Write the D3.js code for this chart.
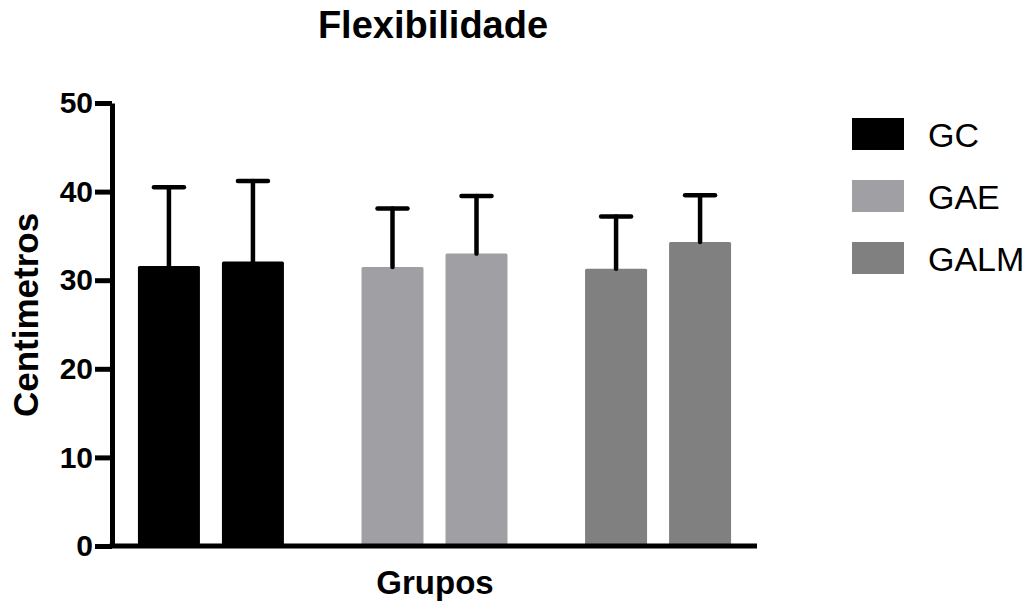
<!DOCTYPE html>
<html>
<head>
<meta charset="utf-8">
<script src="https://cdn.jsdelivr.net/npm/d3@7"></script>
<style>
  body { margin: 0; background: #fff; }
  text { font-family: "Liberation Sans", Arial, sans-serif; }
</style>
</head>
<body>
<svg id="chart" width="1030" height="615"></svg>
<script>
const groups = ["GC", "GAE", "GALM"];
const colors = ["#000000", "#a09fa4", "#808080"];
// two bars per group: mean and upper error value
const means = [[31.6, 32.1], [31.5, 33.0], [31.3, 34.3]];
const upper = [[40.5, 41.2], [38.1, 39.5], [37.2, 39.6]];
const yTicks = [0, 10, 20, 30, 40, 50];

var svg = d3.select("#chart");

var x = d3.scaleBand().domain(groups).range([112, 757]).paddingInner(0.347).paddingOuter(0.116);
var inner = d3.scaleBand().domain([0, 1]).range([0, x.bandwidth()]).paddingInner(0.262);
var y = d3.scaleLinear().domain([0, 50]).range([546, 103]);

var bars = [];
groups.forEach((grp, i) => {
  means[i].forEach((m, j) => {
    bars.push({ grp: grp, j: j, mean: m, up: upper[i][j], color: colors[i] });
  });
});

// bars
svg.selectAll(".bar")
  .data(bars)
  .enter().append("rect")
  .attr("class", "bar")
  .attr("x", d => x(d.grp) + inner(d.j))
  .attr("y", d => y(d.mean))
  .attr("width", inner.bandwidth())
  .attr("height", d => y(0) - y(d.mean))
  .attr("rx", 1.5)
  .attr("fill", d => d.color);

// error bars
var err = svg.selectAll(".err").data(bars).enter().append("g").attr("class", "err");
err.append("line")
  .attr("x1", d => x(d.grp) + inner(d.j) + inner.bandwidth() / 2)
  .attr("x2", d => x(d.grp) + inner(d.j) + inner.bandwidth() / 2)
  .attr("y1", d => y(d.mean))
  .attr("y2", d => y(d.up))
  .attr("stroke", "#000")
  .attr("stroke-width", 4.5)
  .attr("stroke-linecap", "round");
err.append("line")
  .attr("x1", d => x(d.grp) + inner(d.j) + inner.bandwidth() / 2 - 15)
  .attr("x2", d => x(d.grp) + inner(d.j) + inner.bandwidth() / 2 + 15)
  .attr("y1", d => y(d.up))
  .attr("y2", d => y(d.up))
  .attr("stroke", "#000")
  .attr("stroke-width", 4.5)
  .attr("stroke-linecap", "round");

// y axis
var yAxis = svg.append("g")
  .attr("transform", "translate(112,0)")
  .call(d3.axisLeft(y).tickValues(yTicks).tickSize(17).tickSizeOuter(0).tickPadding(2));
yAxis.select(".domain").attr("stroke-width", 5).attr("stroke", "#000");
yAxis.selectAll(".tick line").attr("stroke-width", 5).attr("stroke", "#000");
yAxis.selectAll(".tick text")
  .attr("fill", "#000")
  .style("font-size", "30px")
  .style("font-weight", "bold")
  .style("font-family", "'Liberation Sans', Arial, sans-serif");

// x axis line
svg.append("line")
  .attr("x1", x.range()[0] - 2.5)
  .attr("x2", x.range()[1])
  .attr("y1", y(0))
  .attr("y2", y(0))
  .attr("stroke", "#000")
  .attr("stroke-width", 5);

// title and axis labels
svg.append("text")
  .attr("x", 433)
  .attr("y", 38)
  .attr("text-anchor", "middle")
  .style("font-size", "38px")
  .style("font-weight", "bold")
  .text("Flexibilidade");

svg.append("text")
  .attr("x", 435)
  .attr("y", 594)
  .attr("text-anchor", "middle")
  .style("font-size", "33px")
  .style("font-weight", "bold")
  .text("Grupos");

svg.append("text")
  .attr("transform", "translate(38,315) rotate(-90)")
  .attr("text-anchor", "middle")
  .style("font-size", "35px")
  .style("font-weight", "bold")
  .text("Centimetros");

// legend
var legend = svg.selectAll(".legend")
  .data(groups)
  .enter().append("g")
  .attr("class", "legend")
  .attr("transform", (d, i) => `translate(852, ${118 + i * 62})`);
legend.append("rect")
  .attr("width", 52)
  .attr("height", 32)
  .attr("fill", (d, i) => colors[i]);
legend.append("text")
  .attr("x", 76)
  .attr("y", 29)
  .style("font-size", "34px")
  .text(d => d);
</script>
</body>
</html>
